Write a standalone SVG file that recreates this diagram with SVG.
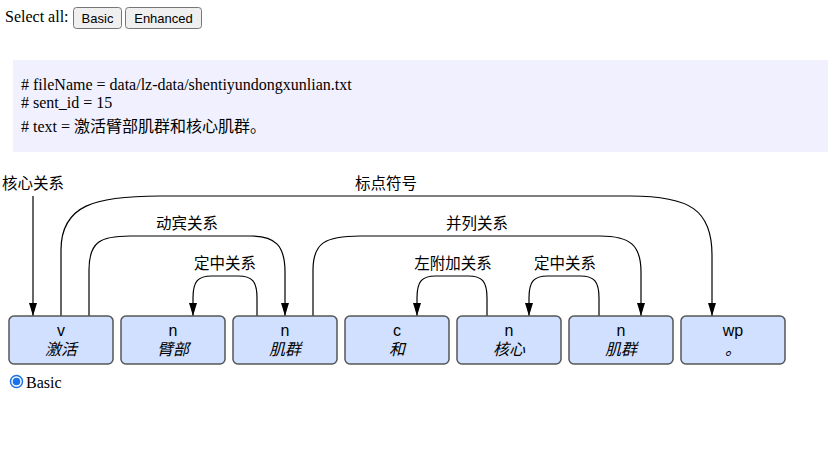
<svg xmlns="http://www.w3.org/2000/svg" width="828" height="449" viewBox="0 0 828 449">
<defs>
<style>
.serif{font-family:"Liberation Serif","Noto Sans CJK SC",serif;font-size:16px;fill:#000}
.btn rect{fill:#efefef;stroke:#767676;stroke-width:1}
.btn text{font-family:"Liberation Sans",Arial,sans-serif;font-size:13px;fill:#000;text-anchor:middle}
.node rect{fill:#d1e0ff;stroke:#555;stroke-width:1.5}
.pos{font-family:"Liberation Sans","Noto Sans CJK SC",sans-serif;font-size:16px;text-anchor:middle;fill:#000}
.word{font-family:"Liberation Sans","Noto Sans CJK SC",sans-serif;font-size:16px;font-style:italic;text-anchor:middle;fill:#000}
.arc{fill:none;stroke:#000;stroke-width:1.2;marker-end:url(#ad)}
.lbl{font-family:"Noto Sans CJK SC",sans-serif;font-size:15.5px;text-anchor:middle;fill:#000}
</style>
<marker id="ad" viewBox="0 0 8 13" refX="4" refY="13" markerWidth="8" markerHeight="13" markerUnits="userSpaceOnUse" orient="0">
<path d="M0,0 L8,0 L4,13 Z" fill="#000"/>
</marker>
</defs>
<rect width="828" height="449" fill="#fff"/>
<g id="toolbar">
<text class="serif" x="5" y="22">Select all:</text>
<g class="btn" id="btn-basic"><rect x="73.5" y="7.5" width="48" height="21" rx="3"/><text x="97.5" y="22.5">Basic</text></g>
<g class="btn" id="btn-enhanced"><rect x="125.5" y="7.5" width="76" height="21" rx="3"/><text x="163.5" y="22.5">Enhanced</text></g>
</g>
<g id="comments">
<rect x="13" y="60" width="815" height="92" fill="#f0f0ff"/>
<text class="serif" x="21" y="90"># fileName = data/lz-data/shentiyundongxunlian.txt</text>
<text class="serif" x="21" y="108"># sent_id = 15</text>
<text class="serif" x="21" y="132"># text = 激活臂部肌群和核心肌群。</text>
</g>
<g id="connectors">
<path class="arc" d="M33,196 V316"/>
<path class="arc" d="M61,316 V250 C61,205 95,196 160,196 H630 C690,196 712,210 712,255 V316"/>
<path class="arc" d="M89,316 V270 C89,242 100,236 130,236 H250 C275,236 285,245 285,272 V316"/>
<path class="arc" d="M257,316 V298 C257,281 252,276 238,276 H212 C198,276 193,281 193,298 V316"/>
<path class="arc" d="M313,316 V270 C313,243 325,236 360,236 H600 C630,236 641,245 641,272 V316"/>
<path class="arc" d="M487,316 V298 C487,281 482,276 468,276 H436 C422,276 417,281 417,298 V316"/>
<path class="arc" d="M599,316 V298 C599,281 594,276 580,276 H548 C534,276 529,281 529,298 V316"/>
<text class="lbl" x="33" y="189">核心关系</text>
<text class="lbl" x="386" y="189">标点符号</text>
<text class="lbl" x="187" y="229">动宾关系</text>
<text class="lbl" x="477" y="229">并列关系</text>
<text class="lbl" x="225" y="269">定中关系</text>
<text class="lbl" x="453" y="269">左附加关系</text>
<text class="lbl" x="565" y="269">定中关系</text>
</g>
<g id="n1" class="node"><rect x="9" y="316" width="104" height="48" rx="5"/><text class="pos" x="61" y="336">v</text><text class="word" x="61" y="355">激活</text></g>
<g id="n2" class="node"><rect x="121" y="316" width="104" height="48" rx="5"/><text class="pos" x="173" y="336">n</text><text class="word" x="173" y="355">臂部</text></g>
<g id="n3" class="node"><rect x="233" y="316" width="104" height="48" rx="5"/><text class="pos" x="285" y="336">n</text><text class="word" x="285" y="355">肌群</text></g>
<g id="n4" class="node"><rect x="345" y="316" width="104" height="48" rx="5"/><text class="pos" x="397" y="336">c</text><text class="word" x="397" y="355">和</text></g>
<g id="n5" class="node"><rect x="457" y="316" width="104" height="48" rx="5"/><text class="pos" x="509" y="336">n</text><text class="word" x="509" y="355">核心</text></g>
<g id="n6" class="node"><rect x="569" y="316" width="104" height="48" rx="5"/><text class="pos" x="621" y="336">n</text><text class="word" x="621" y="355">肌群</text></g>
<g id="n7" class="node"><rect x="681" y="316" width="104" height="48" rx="5"/><text class="pos" x="733" y="336">wp</text><text class="word" x="733" y="355">。</text></g>
<g id="radio">
<circle cx="16.5" cy="381.5" r="6" fill="#fff" stroke="#1a73e8" stroke-width="1.5"/>
<circle cx="16.5" cy="381.5" r="3.8" fill="#1a73e8"/>
<text class="serif" x="26" y="388">Basic</text>
</g>
</svg>
